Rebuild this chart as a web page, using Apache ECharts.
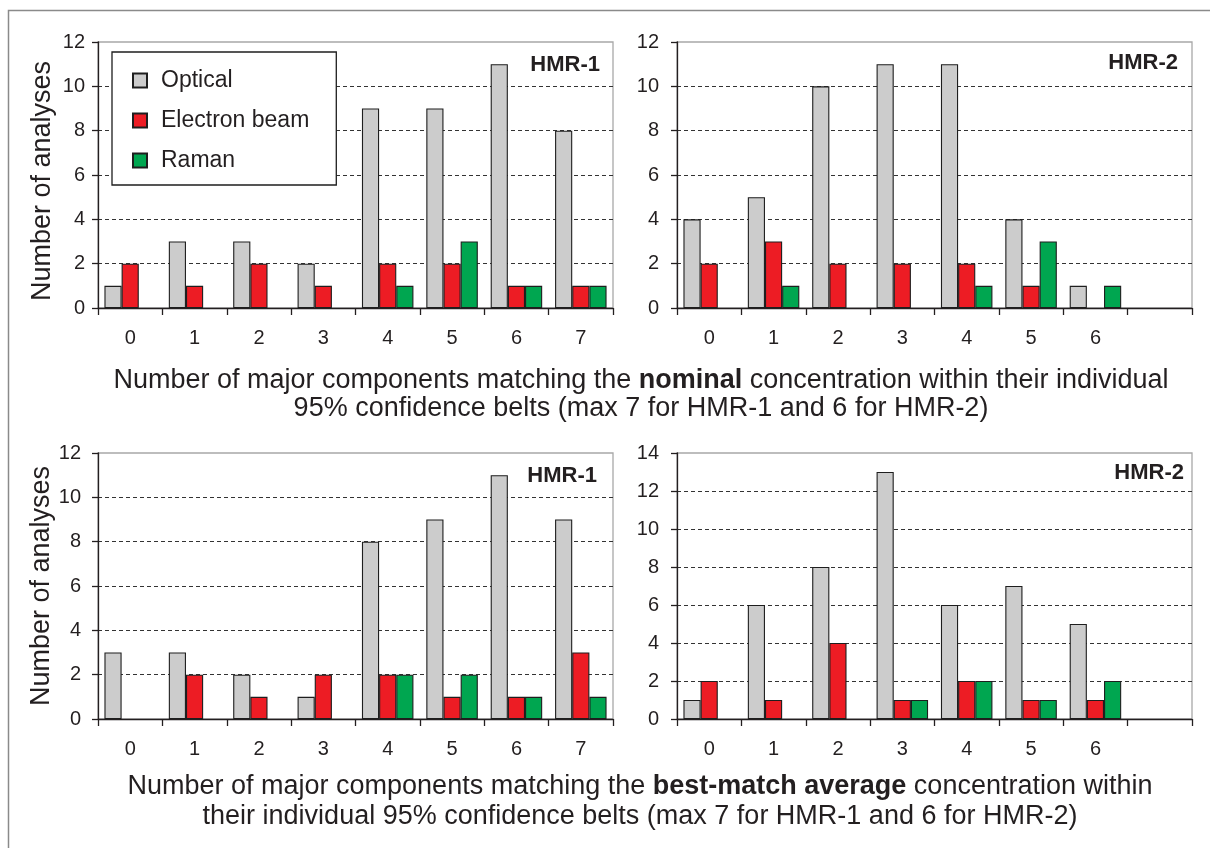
<!DOCTYPE html>
<html>
<head>
<meta charset="utf-8">
<script src="https://cdn.jsdelivr.net/npm/echarts@6/dist/echarts.min.js"></script>
<style>
  html, body { margin: 0; padding: 0; background: #fff; }
  #chart { width: 1210px; height: 848px; }
</style>
</head>
<body>
<div id="chart"></div>
<script>
const FONT = '"Liberation Sans", Arial, Helvetica, sans-serif';
const INK = '#231f20';

const seriesNames = ['Optical', 'Electron beam', 'Raman'];
const seriesColors = ['#cccccc', '#ed1c24', '#00a650'];

// x categories: number of matching major components
const catsHMR1 = ['0', '1', '2', '3', '4', '5', '6', '7'];
const catsHMR2 = ['0', '1', '2', '3', '4', '5', '6', ''];

// matches to the nominal concentration
const nomHMR1Optical  = [1, 3, 3, 2, 9, 9, 11, 8];
const nomHMR1Electron = [2, 1, 2, 1, 2, 2, 1, 1];
const nomHMR1Raman    = [0, 0, 0, 0, 1, 3, 1, 1];

const nomHMR2Optical  = [4, 5, 10, 11, 11, 4, 1];
const nomHMR2Electron = [2, 3, 2, 2, 2, 1, 0];
const nomHMR2Raman    = [0, 1, 0, 0, 1, 3, 1];

// matches to the best-match average concentration
const bestHMR1Optical  = [3, 3, 2, 1, 8, 9, 11, 9];
const bestHMR1Electron = [0, 2, 1, 2, 2, 1, 1, 3];
const bestHMR1Raman    = [0, 0, 0, 0, 2, 2, 1, 1];

const bestHMR2Optical  = [1, 6, 8, 13, 6, 7, 5];
const bestHMR2Electron = [2, 1, 4, 1, 2, 1, 1];
const bestHMR2Raman    = [0, 0, 0, 1, 2, 1, 2];

// y-axis upper limits (ticks every 2)
const yMaxTop = 12;
const yMaxBottomLeft = 12;
const yMaxBottomRight = 14;
const yStep = 2;

const panels = [
  { grid: { left: 98, top: 42, width: 515, height: 266 }, cats: catsHMR1, yMax: yMaxTop,
    data: [nomHMR1Optical, nomHMR1Electron, nomHMR1Raman], yName: 'Number of analyses',
    labelMargin: 13, namePad: [0, 12, 0, 0] },
  { grid: { left: 677, top: 42, width: 515, height: 266 }, cats: catsHMR2, yMax: yMaxTop,
    data: [nomHMR2Optical, nomHMR2Electron, nomHMR2Raman], yName: '',
    labelMargin: 18, namePad: 0 },
  { grid: { left: 98, top: 453, width: 515, height: 266 }, cats: catsHMR1, yMax: yMaxBottomLeft,
    data: [bestHMR1Optical, bestHMR1Electron, bestHMR1Raman], yName: 'Number of analyses',
    labelMargin: 17, namePad: 0 },
  { grid: { left: 677, top: 453, width: 515, height: 266 }, cats: catsHMR2, yMax: yMaxBottomRight,
    data: [bestHMR2Optical, bestHMR2Electron, bestHMR2Raman], yName: '',
    labelMargin: 18, namePad: 0 }
];

const grids = panels.map(p => Object.assign({
  show: true, borderColor: '#a8a8a8', borderWidth: 1.3, backgroundColor: '#fff', containLabel: false
}, p.grid));

const xAxes = panels.map((p, i) => ({
  type: 'category', gridIndex: i, data: p.cats,
  axisLine: { show: true, lineStyle: { color: INK, width: 1.3 } },
  axisTick: { show: true, length: 7, lineStyle: { color: INK, width: 1.3 } },
  axisLabel: { interval: 0, margin: 20, fontFamily: FONT, fontSize: 20, color: INK },
  splitLine: { show: false }
}));

const yAxes = panels.map((p, i) => ({
  type: 'value', gridIndex: i, min: 0, max: p.yMax, interval: yStep,
  axisLine: { show: true, lineStyle: { color: INK, width: 1.3 } },
  axisTick: { show: true, length: 6, lineStyle: { color: INK, width: 1.3 } },
  axisLabel: { margin: p.labelMargin, fontFamily: FONT, fontSize: 20, color: INK },
  splitLine: { show: true, showMinLine: false, showMaxLine: false,
    lineStyle: { color: '#333', width: 1, type: [4, 3] } },
  name: p.yName, nameLocation: 'middle', nameGap: 42,
  nameTextStyle: { fontFamily: FONT, fontSize: 27, color: INK, padding: p.namePad }
}));

const series = [];
panels.forEach((p, i) => {
  p.data.forEach((vals, k) => {
    series.push({
      type: 'bar', name: seriesNames[k], xAxisIndex: i, yAxisIndex: i,
      data: vals.map(v => (v === 0 ? '-' : v)),
      barGap: '0%', barCategoryGap: '20%',
      itemStyle: { color: seriesColors[k], borderColor: '#1e1e1e', borderWidth: 1.1 },
      emphasis: { disabled: true }, silent: true
    });
  });
});

function tag(text, right, cy) {
  return {
    type: 'text', z: 50,
    style: { text, x: right, y: cy, textAlign: 'right', textVerticalAlign: 'middle',
      font: 'bold 22px ' + FONT, fill: INK }
  };
}

function caption(text, cx, cy, lh) {
  return {
    type: 'text', z: 50,
    style: {
      text, x: cx, y: cy, textAlign: 'center', textVerticalAlign: 'middle',
      font: '27px ' + FONT, fill: INK, lineHeight: lh,
      rich: {
        r: { font: '27px ' + FONT, fill: INK, lineHeight: lh },
        b: { font: 'bold 27px ' + FONT, fill: INK, lineHeight: lh }
      }
    }
  };
}

const option = {
  animation: false,
  backgroundColor: '#fff',
  grid: grids,
  xAxis: xAxes,
  yAxis: yAxes,
  series,
  legend: {
    data: seriesNames, orient: 'vertical', left: 112, top: 52,
    padding: [17, 27, 13, 20], itemGap: 17, itemWidth: 14, itemHeight: 14,
    icon: 'rect', borderColor: '#1e1e1e', borderWidth: 1.3, backgroundColor: '#fff',
    selectedMode: false, z: 20,
    textStyle: { fontFamily: FONT, fontSize: 23, color: INK, padding: [0, 0, 0, 9] }
  },
  graphic: [
    { type: 'polyline', z: 1, silent: true,
      shape: { points: [[8.5, 848], [8.5, 10.5], [1210, 10.5]] },
      style: { stroke: '#8a8a8a', lineWidth: 1.5, fill: null } },
    tag('HMR-1', 600, 64.5),
    tag('HMR-2', 1178, 63),
    tag('HMR-1', 597, 476),
    tag('HMR-2', 1184, 472.5),
    caption('{r|Number of major components matching the }{b|nominal}{r| concentration within their individual}\n{r|95% confidence belts (max 7 for HMR-1 and 6 for HMR-2)}', 641, 395, 28),
    caption('{r|Number of major components matching the }{b|best-match average}{r| concentration within}\n{r|their individual 95% confidence belts (max 7 for HMR-1 and 6 for HMR-2)}', 640, 802, 30)
  ]
};

const chart = echarts.init(document.getElementById('chart'), null, { renderer: 'canvas' });
chart.setOption(option);
</script>
</body>
</html>
